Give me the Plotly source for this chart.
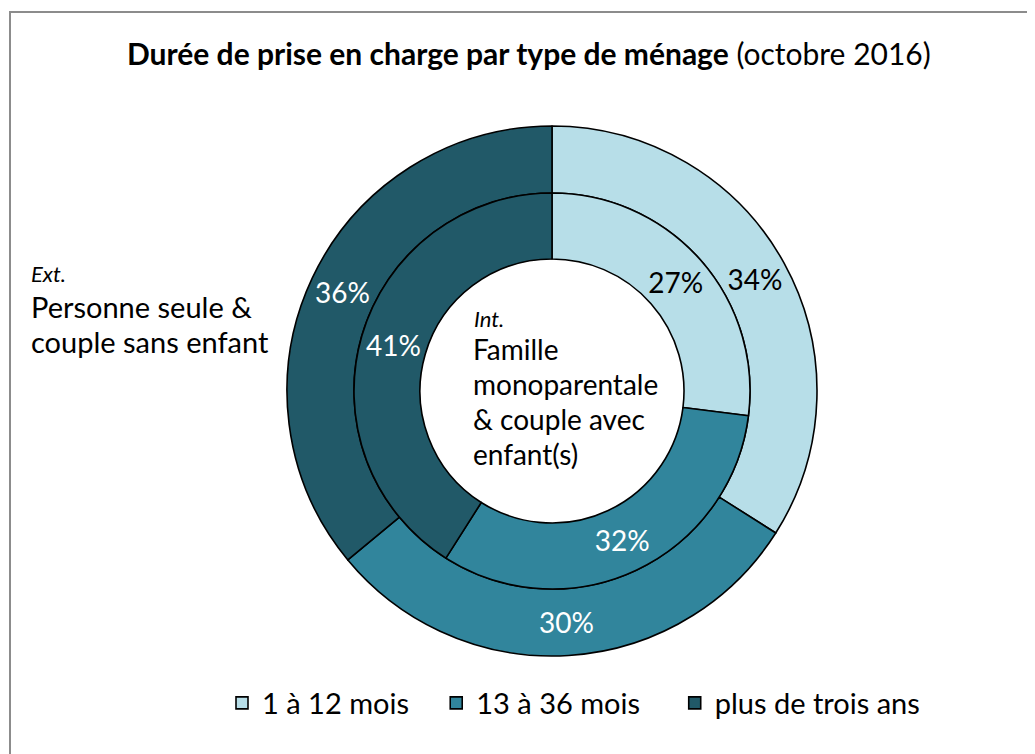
import plotly.graph_objects as go

categories = ["1 à 12 mois", "13 à 36 mois", "plus de trois ans"]
outer_values = [34, 30, 36]   # Ext. : Personne seule & couple sans enfant
inner_values = [27, 32, 41]   # Int. : Famille monoparentale & couple avec enfant(s)
colors = ["#B7DEE8", "#31859C", "#215968"]
text_colors = ["#000000", "#FFFFFF", "#FFFFFF"]

# trailing no-break spaces only widen the gap between legend entries
legend_pad = [3, 4, 0]
legend_labels = [c + "\u00a0" * n for c, n in zip(categories, legend_pad)]

# page body has an 8px margin: figure fills the rest of the 1035x754 window
OFF = 8
W, H = 1035 - OFF, 754 - OFF
FONT = "Lato, 'Open Sans', sans-serif"

cx, cy = 552 - OFF, 391 - OFF
r_out, r_mid, r_in = 265, 198, 132


def px(x):
    return (x - OFF) / W


def py(y):
    return 1 - (y - OFF) / H


def dom(r):
    return dict(x=[(cx - r) / W, (cx + r) / W],
                y=[(H - cy - r) / H, (H - cy + r) / H])


fig = go.Figure()
fig.add_trace(go.Pie(
    labels=legend_labels, values=outer_values, sort=False, direction="clockwise",
    rotation=0, hole=r_mid / r_out, domain=dom(r_out),
    marker=dict(colors=colors, line=dict(color="#000000", width=1.6)),
    texttemplate="%{value}%", textposition="inside",
    insidetextorientation="horizontal",
    insidetextfont=dict(family=FONT, size=28, color=text_colors),
    showlegend=True, hoverinfo="label+value",
))
fig.add_trace(go.Pie(
    labels=legend_labels, values=inner_values, sort=False, direction="clockwise",
    rotation=0, hole=r_in / r_mid, domain=dom(r_mid),
    marker=dict(colors=colors, line=dict(color="#000000", width=1.6)),
    texttemplate="%{value}%", textposition="inside",
    insidetextorientation="horizontal",
    insidetextfont=dict(family=FONT, size=28, color=text_colors),
    showlegend=False, hoverinfo="label+value",
))

annotations = [
    dict(text="<b>Durée de prise en charge par type de ménage</b> (octobre 2016)",
         x=px(529), y=py(53), font=dict(size=30, family=FONT, color="#000")),
    dict(text="<i>Ext.</i>", x=px(29), y=py(273), xanchor="left",
         font=dict(size=22, family=FONT, color="#000")),
    dict(text="Personne seule &", x=px(29), y=py(306), xanchor="left",
         font=dict(size=29, family=FONT, color="#000")),
    dict(text="couple sans enfant", x=px(29), y=py(341), xanchor="left",
         font=dict(size=29, family=FONT, color="#000")),
    dict(text="<i>Int.</i>", x=px(472), y=py(318), xanchor="left",
         font=dict(size=22, family=FONT, color="#000")),
]
for i, line in enumerate(["Famille", "monoparentale", "& couple avec", "enfant(s)"]):
    annotations.append(dict(text=line, x=px(471), y=py(349 + 35 * i),
                            xanchor="left",
                            font=dict(size=28, family=FONT, color="#000")))
for a in annotations:
    a.update(xref="paper", yref="paper", showarrow=False, yanchor="middle")
    a.setdefault("xanchor", "center")

fig.update_layout(
    width=W, height=H,
    margin=dict(l=0, r=0, t=0, b=0),
    paper_bgcolor="#FFFFFF", plot_bgcolor="#FFFFFF",
    annotations=annotations,
    legend=dict(orientation="h", x=px(222), y=py(703), xanchor="left",
                yanchor="middle", font=dict(size=29, family=FONT, color="#000"),
                itemwidth=30, traceorder="normal"),
    shapes=[dict(type="rect", xref="paper", yref="paper",
                 x0=px(10), y0=-0.05, x1=1.05, y1=py(12),
                 line=dict(color="#8C8C8C", width=2), fillcolor="rgba(0,0,0,0)")],
)

fig.write_html("out.html")
